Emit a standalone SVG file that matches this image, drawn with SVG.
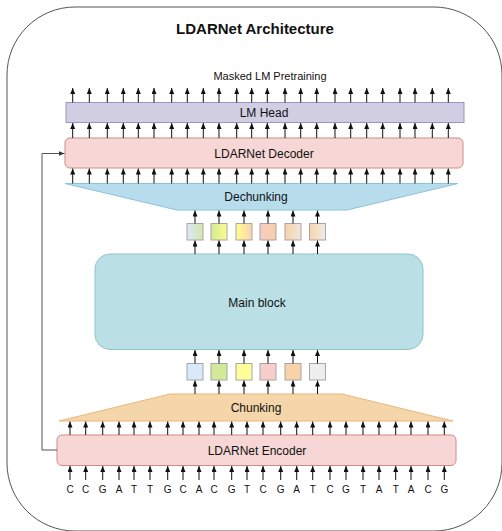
<svg xmlns="http://www.w3.org/2000/svg" width="502" height="531" viewBox="0 0 502 531">
  <style>
    text { font-family: "Liberation Sans", Arial, sans-serif; fill: #111; text-anchor: middle; dominant-baseline: central; }
    .lbl { font-size: 12px; }
    .title { font-size: 15px; font-weight: bold; }
    .sub { font-size: 11px; }
    .base { font-size: 10px; }
    .ar line { stroke: #111; stroke-width: 1; marker-end: url(#tip); }
    .tok { stroke: #a6a6a6; stroke-width: 1; }
  </style>
  <defs>
    <marker id="tip" markerWidth="6" markerHeight="5" refX="6" refY="2.5" orient="auto" markerUnits="userSpaceOnUse">
      <path d="M0,0 L6,2.5 L0,5 z" fill="#111"/>
    </marker>
    <marker id="tipg" markerWidth="6" markerHeight="5" refX="6" refY="2.5" orient="auto" markerUnits="userSpaceOnUse">
      <path d="M0,0 L6,2.5 L0,5 z" fill="#333"/>
    </marker>
    <linearGradient id="g1"><stop offset="0" stop-color="#dae8fc"/><stop offset="1" stop-color="#d5e8a6"/></linearGradient>
    <linearGradient id="g2"><stop offset="0" stop-color="#d3ea96"/><stop offset="1" stop-color="#fbfb8c"/></linearGradient>
    <linearGradient id="g3"><stop offset="0" stop-color="#ffff8c"/><stop offset="1" stop-color="#f9d3b5"/></linearGradient>
    <linearGradient id="g4"><stop offset="0" stop-color="#f8cbc6"/><stop offset="1" stop-color="#f8cfa8"/></linearGradient>
    <linearGradient id="g5"><stop offset="0" stop-color="#f8d2ac"/><stop offset="1" stop-color="#f2e6dc"/></linearGradient>
    <linearGradient id="g6"><stop offset="0" stop-color="#f9d3aa"/><stop offset="1" stop-color="#efece8"/></linearGradient>
  </defs>

  <!-- outer frame -->
  <rect x="7" y="7" width="495" height="524" rx="68" ry="68" fill="#fff" stroke="#555" stroke-width="1"/>

  <text class="title" x="255" y="28">LDARNet Architecture</text>
  <text class="sub" x="270" y="76">Masked LM Pretraining</text>

  <g id="lm-head">
    <rect x="66" y="102.5" width="398" height="20" fill="#d1cde3" stroke="#9b95c4" stroke-width="1"/>
    <text class="lbl" x="264" y="113">LM Head</text>
  </g>

  <g id="decoder">
    <rect x="65" y="138" width="398" height="30" rx="5" fill="#f6d7d5" stroke="#d08b86" stroke-width="1"/>
    <text class="lbl" x="264" y="154">LDARNet Decoder</text>
  </g>

  <g id="dechunking">
    <polygon points="65,183.5 458,183.5 347,210 177,210" fill="#b7dcec" stroke="#8cc2dc" stroke-width="1"/>
    <text class="lbl" x="256" y="197">Dechunking</text>
  </g>

  <g id="merged-tokens">
    <rect class="tok" x="187" y="223.5" width="16" height="16.5" fill="url(#g1)"/>
    <rect class="tok" x="211" y="223.5" width="16" height="16.5" fill="url(#g2)"/>
    <rect class="tok" x="236" y="223.5" width="16" height="16.5" fill="url(#g3)"/>
    <rect class="tok" x="260" y="223.5" width="16" height="16.5" fill="url(#g4)"/>
    <rect class="tok" x="285" y="223.5" width="16" height="16.5" fill="url(#g5)"/>
    <rect class="tok" x="309.5" y="223.5" width="16" height="16.5" fill="url(#g6)"/>
  </g>

  <g id="main-block">
    <rect x="95" y="254" width="328" height="95.5" rx="15" ry="15" fill="#bae0e5" stroke="#8fc3c9" stroke-width="1"/>
    <text class="lbl" x="257" y="303">Main block</text>
  </g>

  <g id="chunk-tokens">
    <rect class="tok" x="187" y="363.5" width="16" height="16.5" fill="#dae8fc"/>
    <rect class="tok" x="211" y="363.5" width="16" height="16.5" fill="#d3e99a"/>
    <rect class="tok" x="236" y="363.5" width="16" height="16.5" fill="#ffff99"/>
    <rect class="tok" x="260" y="363.5" width="16" height="16.5" fill="#f8cecc"/>
    <rect class="tok" x="285" y="363.5" width="16" height="16.5" fill="#f9d3a8"/>
    <rect class="tok" x="309.5" y="363.5" width="16" height="16.5" fill="#eeeeee"/>
  </g>

  <g id="chunking">
    <polygon points="170,394 342,394 453,421 59,421" fill="#f5d6aa" stroke="#e8b77a" stroke-width="1"/>
    <text class="lbl" x="256" y="408">Chunking</text>
  </g>

  <g id="encoder">
    <rect x="57" y="435" width="399" height="30.5" rx="5" fill="#f6d7d5" stroke="#d08b86" stroke-width="1"/>
    <text class="lbl" x="257" y="451">LDARNet Encoder</text>
  </g>

  <g id="sequence">
    <text class="base" x="70" y="489">C</text>
    <text class="base" x="85.7" y="489">C</text>
    <text class="base" x="102.7" y="489">G</text>
    <text class="base" x="119" y="489">A</text>
    <text class="base" x="134" y="489">T</text>
    <text class="base" x="150" y="489">T</text>
    <text class="base" x="167.7" y="489">G</text>
    <text class="base" x="183" y="489">C</text>
    <text class="base" x="199" y="489">A</text>
    <text class="base" x="214" y="489">C</text>
    <text class="base" x="231.7" y="489">G</text>
    <text class="base" x="247" y="489">T</text>
    <text class="base" x="263" y="489">C</text>
    <text class="base" x="280.7" y="489">G</text>
    <text class="base" x="296.7" y="489">A</text>
    <text class="base" x="312.7" y="489">T</text>
    <text class="base" x="330" y="489">C</text>
    <text class="base" x="346" y="489">G</text>
    <text class="base" x="363" y="489">T</text>
    <text class="base" x="379" y="489">A</text>
    <text class="base" x="395.7" y="489">T</text>
    <text class="base" x="411" y="489">A</text>
    <text class="base" x="428" y="489">C</text>
    <text class="base" x="444.3" y="489">G</text>
  </g>

  <g id="connectors">
    <!-- skip connection from encoder to decoder -->
    <path d="M57,450 H42 V153.5 H64.5" fill="none" stroke="#555" stroke-width="1" marker-end="url(#tipg)"/>

    <!-- sequence into encoder -->
    <g class="ar">
      <line x1="70" y1="480" x2="70" y2="466"/><line x1="85.7" y1="480" x2="85.7" y2="466"/>
      <line x1="102.7" y1="480" x2="102.7" y2="466"/><line x1="119" y1="480" x2="119" y2="466"/>
      <line x1="134" y1="480" x2="134" y2="466"/><line x1="150" y1="480" x2="150" y2="466"/>
      <line x1="167.7" y1="480" x2="167.7" y2="466"/><line x1="183" y1="480" x2="183" y2="466"/>
      <line x1="199" y1="480" x2="199" y2="466"/><line x1="214" y1="480" x2="214" y2="466"/>
      <line x1="231.7" y1="480" x2="231.7" y2="466"/><line x1="247" y1="480" x2="247" y2="466"/>
      <line x1="263" y1="480" x2="263" y2="466"/><line x1="280.7" y1="480" x2="280.7" y2="466"/>
      <line x1="296.7" y1="480" x2="296.7" y2="466"/><line x1="312.7" y1="480" x2="312.7" y2="466"/>
      <line x1="330" y1="480" x2="330" y2="466"/><line x1="346" y1="480" x2="346" y2="466"/>
      <line x1="363" y1="480" x2="363" y2="466"/><line x1="379" y1="480" x2="379" y2="466"/>
      <line x1="395.7" y1="480" x2="395.7" y2="466"/><line x1="411" y1="480" x2="411" y2="466"/>
      <line x1="428" y1="480" x2="428" y2="466"/><line x1="444.3" y1="480" x2="444.3" y2="466"/>
    </g>
    <!-- encoder into chunking -->
    <g class="ar">
      <line x1="70" y1="435" x2="70" y2="421.5"/><line x1="85.7" y1="435" x2="85.7" y2="421.5"/>
      <line x1="102.7" y1="435" x2="102.7" y2="421.5"/><line x1="119" y1="435" x2="119" y2="421.5"/>
      <line x1="134" y1="435" x2="134" y2="421.5"/><line x1="150" y1="435" x2="150" y2="421.5"/>
      <line x1="167.7" y1="435" x2="167.7" y2="421.5"/><line x1="183" y1="435" x2="183" y2="421.5"/>
      <line x1="199" y1="435" x2="199" y2="421.5"/><line x1="214" y1="435" x2="214" y2="421.5"/>
      <line x1="231.7" y1="435" x2="231.7" y2="421.5"/><line x1="247" y1="435" x2="247" y2="421.5"/>
      <line x1="263" y1="435" x2="263" y2="421.5"/><line x1="280.7" y1="435" x2="280.7" y2="421.5"/>
      <line x1="296.7" y1="435" x2="296.7" y2="421.5"/><line x1="312.7" y1="435" x2="312.7" y2="421.5"/>
      <line x1="330" y1="435" x2="330" y2="421.5"/><line x1="346" y1="435" x2="346" y2="421.5"/>
      <line x1="363" y1="435" x2="363" y2="421.5"/><line x1="379" y1="435" x2="379" y2="421.5"/>
      <line x1="395.7" y1="435" x2="395.7" y2="421.5"/><line x1="411" y1="435" x2="411" y2="421.5"/>
      <line x1="428" y1="435" x2="428" y2="421.5"/><line x1="444.3" y1="435" x2="444.3" y2="421.5"/>
    </g>
    <!-- chunking into chunk tokens -->
    <g class="ar">
      <line x1="195" y1="394" x2="195" y2="380.5"/><line x1="219" y1="394" x2="219" y2="380.5"/>
      <line x1="244" y1="394" x2="244" y2="380.5"/><line x1="268" y1="394" x2="268" y2="380.5"/>
      <line x1="293" y1="394" x2="293" y2="380.5"/><line x1="317.5" y1="394" x2="317.5" y2="380.5"/>
    </g>
    <!-- chunk tokens into main block -->
    <g class="ar">
      <line x1="195" y1="363.5" x2="195" y2="350"/><line x1="219" y1="363.5" x2="219" y2="350"/>
      <line x1="244" y1="363.5" x2="244" y2="350"/><line x1="268" y1="363.5" x2="268" y2="350"/>
      <line x1="293" y1="363.5" x2="293" y2="350"/><line x1="317.5" y1="363.5" x2="317.5" y2="350"/>
    </g>
    <!-- main block into merged tokens -->
    <g class="ar">
      <line x1="195" y1="254" x2="195" y2="240.5"/><line x1="219" y1="254" x2="219" y2="240.5"/>
      <line x1="244" y1="254" x2="244" y2="240.5"/><line x1="268" y1="254" x2="268" y2="240.5"/>
      <line x1="293" y1="254" x2="293" y2="240.5"/><line x1="317.5" y1="254" x2="317.5" y2="240.5"/>
    </g>
    <!-- merged tokens into dechunking -->
    <g class="ar">
      <line x1="195" y1="223.5" x2="195" y2="210.5"/><line x1="219" y1="223.5" x2="219" y2="210.5"/>
      <line x1="244" y1="223.5" x2="244" y2="210.5"/><line x1="268" y1="223.5" x2="268" y2="210.5"/>
      <line x1="293" y1="223.5" x2="293" y2="210.5"/><line x1="317.5" y1="223.5" x2="317.5" y2="210.5"/>
    </g>
    <!-- dechunking into decoder -->
    <g class="ar">
      <line x1="72.7" y1="183.5" x2="72.7" y2="168.5"/><line x1="89.3" y1="183.5" x2="89.3" y2="168.5"/>
      <line x1="107.3" y1="183.5" x2="107.3" y2="168.5"/><line x1="123.3" y1="183.5" x2="123.3" y2="168.5"/>
      <line x1="138.3" y1="183.5" x2="138.3" y2="168.5"/><line x1="154" y1="183.5" x2="154" y2="168.5"/>
      <line x1="171.7" y1="183.5" x2="171.7" y2="168.5"/><line x1="187.3" y1="183.5" x2="187.3" y2="168.5"/>
      <line x1="203.3" y1="183.5" x2="203.3" y2="168.5"/><line x1="219" y1="183.5" x2="219" y2="168.5"/>
      <line x1="236.7" y1="183.5" x2="236.7" y2="168.5"/><line x1="251.7" y1="183.5" x2="251.7" y2="168.5"/>
      <line x1="267.3" y1="183.5" x2="267.3" y2="168.5"/><line x1="285" y1="183.5" x2="285" y2="168.5"/>
      <line x1="300.7" y1="183.5" x2="300.7" y2="168.5"/><line x1="316.7" y1="183.5" x2="316.7" y2="168.5"/>
      <line x1="335" y1="183.5" x2="335" y2="168.5"/><line x1="350.7" y1="183.5" x2="350.7" y2="168.5"/>
      <line x1="366.7" y1="183.5" x2="366.7" y2="168.5"/><line x1="382.7" y1="183.5" x2="382.7" y2="168.5"/>
      <line x1="400" y1="183.5" x2="400" y2="168.5"/><line x1="415" y1="183.5" x2="415" y2="168.5"/>
      <line x1="432.3" y1="183.5" x2="432.3" y2="168.5"/><line x1="448.3" y1="183.5" x2="448.3" y2="168.5"/>
    </g>
    <!-- decoder into LM head -->
    <g class="ar">
      <line x1="72.7" y1="138" x2="72.7" y2="123"/><line x1="89.3" y1="138" x2="89.3" y2="123"/>
      <line x1="107.3" y1="138" x2="107.3" y2="123"/><line x1="123.3" y1="138" x2="123.3" y2="123"/>
      <line x1="138.3" y1="138" x2="138.3" y2="123"/><line x1="154" y1="138" x2="154" y2="123"/>
      <line x1="171.7" y1="138" x2="171.7" y2="123"/><line x1="187.3" y1="138" x2="187.3" y2="123"/>
      <line x1="203.3" y1="138" x2="203.3" y2="123"/><line x1="219" y1="138" x2="219" y2="123"/>
      <line x1="236.7" y1="138" x2="236.7" y2="123"/><line x1="251.7" y1="138" x2="251.7" y2="123"/>
      <line x1="267.3" y1="138" x2="267.3" y2="123"/><line x1="285" y1="138" x2="285" y2="123"/>
      <line x1="300.7" y1="138" x2="300.7" y2="123"/><line x1="316.7" y1="138" x2="316.7" y2="123"/>
      <line x1="335" y1="138" x2="335" y2="123"/><line x1="350.7" y1="138" x2="350.7" y2="123"/>
      <line x1="366.7" y1="138" x2="366.7" y2="123"/><line x1="382.7" y1="138" x2="382.7" y2="123"/>
      <line x1="400" y1="138" x2="400" y2="123"/><line x1="415" y1="138" x2="415" y2="123"/>
      <line x1="432.3" y1="138" x2="432.3" y2="123"/><line x1="448.3" y1="138" x2="448.3" y2="123"/>
    </g>
    <!-- LM head outputs -->
    <g class="ar">
      <line x1="72.7" y1="102.5" x2="72.7" y2="88"/><line x1="89.3" y1="102.5" x2="89.3" y2="88"/>
      <line x1="107.3" y1="102.5" x2="107.3" y2="88"/><line x1="123.3" y1="102.5" x2="123.3" y2="88"/>
      <line x1="138.3" y1="102.5" x2="138.3" y2="88"/><line x1="154" y1="102.5" x2="154" y2="88"/>
      <line x1="171.7" y1="102.5" x2="171.7" y2="88"/><line x1="187.3" y1="102.5" x2="187.3" y2="88"/>
      <line x1="203.3" y1="102.5" x2="203.3" y2="88"/><line x1="219" y1="102.5" x2="219" y2="88"/>
      <line x1="236.7" y1="102.5" x2="236.7" y2="88"/><line x1="251.7" y1="102.5" x2="251.7" y2="88"/>
      <line x1="267.3" y1="102.5" x2="267.3" y2="88"/><line x1="285" y1="102.5" x2="285" y2="88"/>
      <line x1="300.7" y1="102.5" x2="300.7" y2="88"/><line x1="316.7" y1="102.5" x2="316.7" y2="88"/>
      <line x1="335" y1="102.5" x2="335" y2="88"/><line x1="350.7" y1="102.5" x2="350.7" y2="88"/>
      <line x1="366.7" y1="102.5" x2="366.7" y2="88"/><line x1="382.7" y1="102.5" x2="382.7" y2="88"/>
      <line x1="400" y1="102.5" x2="400" y2="88"/><line x1="415" y1="102.5" x2="415" y2="88"/>
      <line x1="432.3" y1="102.5" x2="432.3" y2="88"/><line x1="448.3" y1="102.5" x2="448.3" y2="88"/>
    </g>
  </g>
</svg>
